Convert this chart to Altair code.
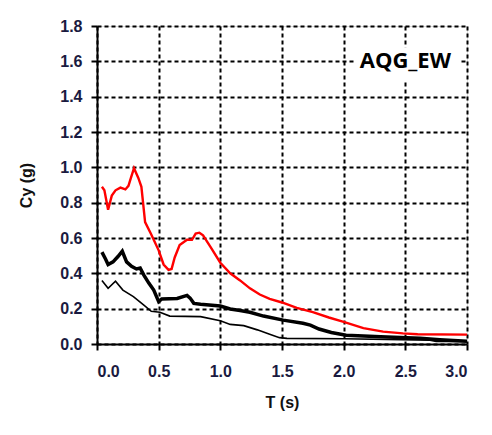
import altair as alt
import pandas as pd

# Red (upper) curve
red_T = [0.04, 0.06, 0.09, 0.12, 0.15, 0.19, 0.23, 0.255, 0.275, 0.30, 0.335, 0.36, 0.39, 0.44, 0.50,
         0.54, 0.58, 0.605, 0.63, 0.67, 0.73, 0.77, 0.80, 0.83, 0.86, 0.92, 1.00, 1.08, 1.16, 1.24,
         1.32, 1.40, 1.50, 1.62, 1.75, 1.88, 2.00, 2.16, 2.32, 2.48, 2.60, 3.00]
red_C = [0.89, 0.87, 0.76, 0.84, 0.87, 0.885, 0.875, 0.895, 0.94, 0.995, 0.94, 0.89, 0.69, 0.62, 0.53,
         0.45, 0.42, 0.425, 0.49, 0.56, 0.59, 0.59, 0.625, 0.63, 0.615, 0.55, 0.46, 0.40, 0.36, 0.315,
         0.28, 0.255, 0.235, 0.205, 0.18, 0.15, 0.125, 0.09, 0.07, 0.06, 0.055, 0.053]

# Thick black curve
thick_T = [0.04, 0.07, 0.09, 0.13, 0.17, 0.205, 0.24, 0.28, 0.32, 0.35, 0.38, 0.42, 0.46, 0.50, 0.525,
           0.65, 0.73, 0.755, 0.785, 0.84, 1.00, 1.08, 1.16, 1.24, 1.35, 1.51, 1.67, 1.73, 1.80, 1.90,
           2.02, 2.30, 2.62, 2.78, 3.00]
thick_C = [0.52, 0.48, 0.45, 0.465, 0.495, 0.525, 0.465, 0.44, 0.425, 0.43, 0.39, 0.345, 0.305, 0.24, 0.255,
           0.258, 0.275, 0.26, 0.23, 0.225, 0.215, 0.198, 0.19, 0.18, 0.158, 0.135, 0.117, 0.107, 0.085, 0.065,
           0.05, 0.041, 0.032, 0.024, 0.015]

# Thin black curve
thin_T = [0.04, 0.09, 0.15, 0.21, 0.295, 0.38, 0.44, 0.51, 0.59, 0.84, 1.00, 1.08, 1.19, 1.30, 1.40,
          1.48, 1.54, 2.00, 2.70, 2.75, 3.00]
thin_C = [0.36, 0.315, 0.355, 0.305, 0.268, 0.22, 0.185, 0.18, 0.158, 0.155, 0.132, 0.111, 0.104, 0.08, 0.055,
          0.036, 0.032, 0.03, 0.022, 0.015, 0.015]

x_ticks = [0.0, 0.5, 1.0, 1.5, 2.0, 2.5, 3.0]
y_ticks = [0.0, 0.2, 0.4, 0.6, 0.8, 1.0, 1.2, 1.4, 1.6, 1.8]
label_text = "AQG_EW"

df = pd.concat([
    pd.DataFrame({"T": red_T, "Cy": red_C, "s": "red"}),
    pd.DataFrame({"T": thick_T, "Cy": thick_C, "s": "thick"}),
    pd.DataFrame({"T": thin_T, "Cy": thin_C, "s": "thin"}),
])

font = "Liberation Sans"
lab_col = "#1a1a40"

xs = alt.Scale(domain=[0, 3.0], nice=False)
ys = alt.Scale(domain=[0, 1.8], nice=False)

xax = alt.Axis(values=x_ticks, format=".1f", title="T (s)", grid=True,
               gridColor="black", gridDash=[4, 3], gridWidth=2,
               domainColor="black", domainWidth=2, tickColor="black", tickWidth=2, tickSize=6,
               labelFont=font, labelFontSize=16, labelFontWeight="bold", labelColor=lab_col,
               labelPadding=13, titleFont=font, titleFontSize=16, titleFontWeight="bold",
               titleColor="#111", titlePadding=15)
yax = alt.Axis(values=y_ticks, format=".1f", title="Cy (g)", grid=True,
               gridColor="black", gridDash=[4, 3], gridWidth=2,
               domainColor="black", domainWidth=2, tickColor="black", tickWidth=2, tickSize=6,
               labelFont=font, labelFontSize=16, labelFontWeight="bold", labelColor=lab_col,
               labelPadding=9, titleFont=font, titleFontSize=16, titleFontWeight="bold",
               titleColor="#111", titlePadding=25)

def line(name, color, width):
    return alt.Chart(df[df.s == name]).mark_line(color=color, strokeWidth=width).encode(
        x=alt.X("T:Q", scale=xs, axis=xax),
        y=alt.Y("Cy:Q", scale=ys, axis=yax),
    )

box = alt.Chart(pd.DataFrame({"a": [0]})).mark_rect(color="white").encode(
    x=alt.datum(2.1, scale=xs, axis=xax), x2=alt.datum(2.94),
    y=alt.datum(1.49, scale=ys, axis=yax), y2=alt.datum(1.68),
)
txt = alt.Chart(pd.DataFrame({"label": [label_text]})).mark_text(
    font="Open Sans", fontSize=22, fontWeight="bold", color="black", align="center", baseline="middle"
).encode(
    x=alt.datum(2.5, scale=xs, axis=xax), y=alt.datum(1.6, scale=ys, axis=yax), text="label:N"
)

chart = alt.layer(
    line("thin", "black", 1.6),
    line("thick", "black", 3.5),
    line("red", "#ff0000", 2.4),
    box, txt,
).properties(
    width=370, height=318,
    autosize=alt.AutoSizeParams(type="none"),
    padding={"left": 89, "top": 18, "right": 17, "bottom": 83},
).configure_view(stroke="black", strokeWidth=2).configure(background="white")

chart.save("out.html", embed_options={"renderer": "svg", "actions": False})
